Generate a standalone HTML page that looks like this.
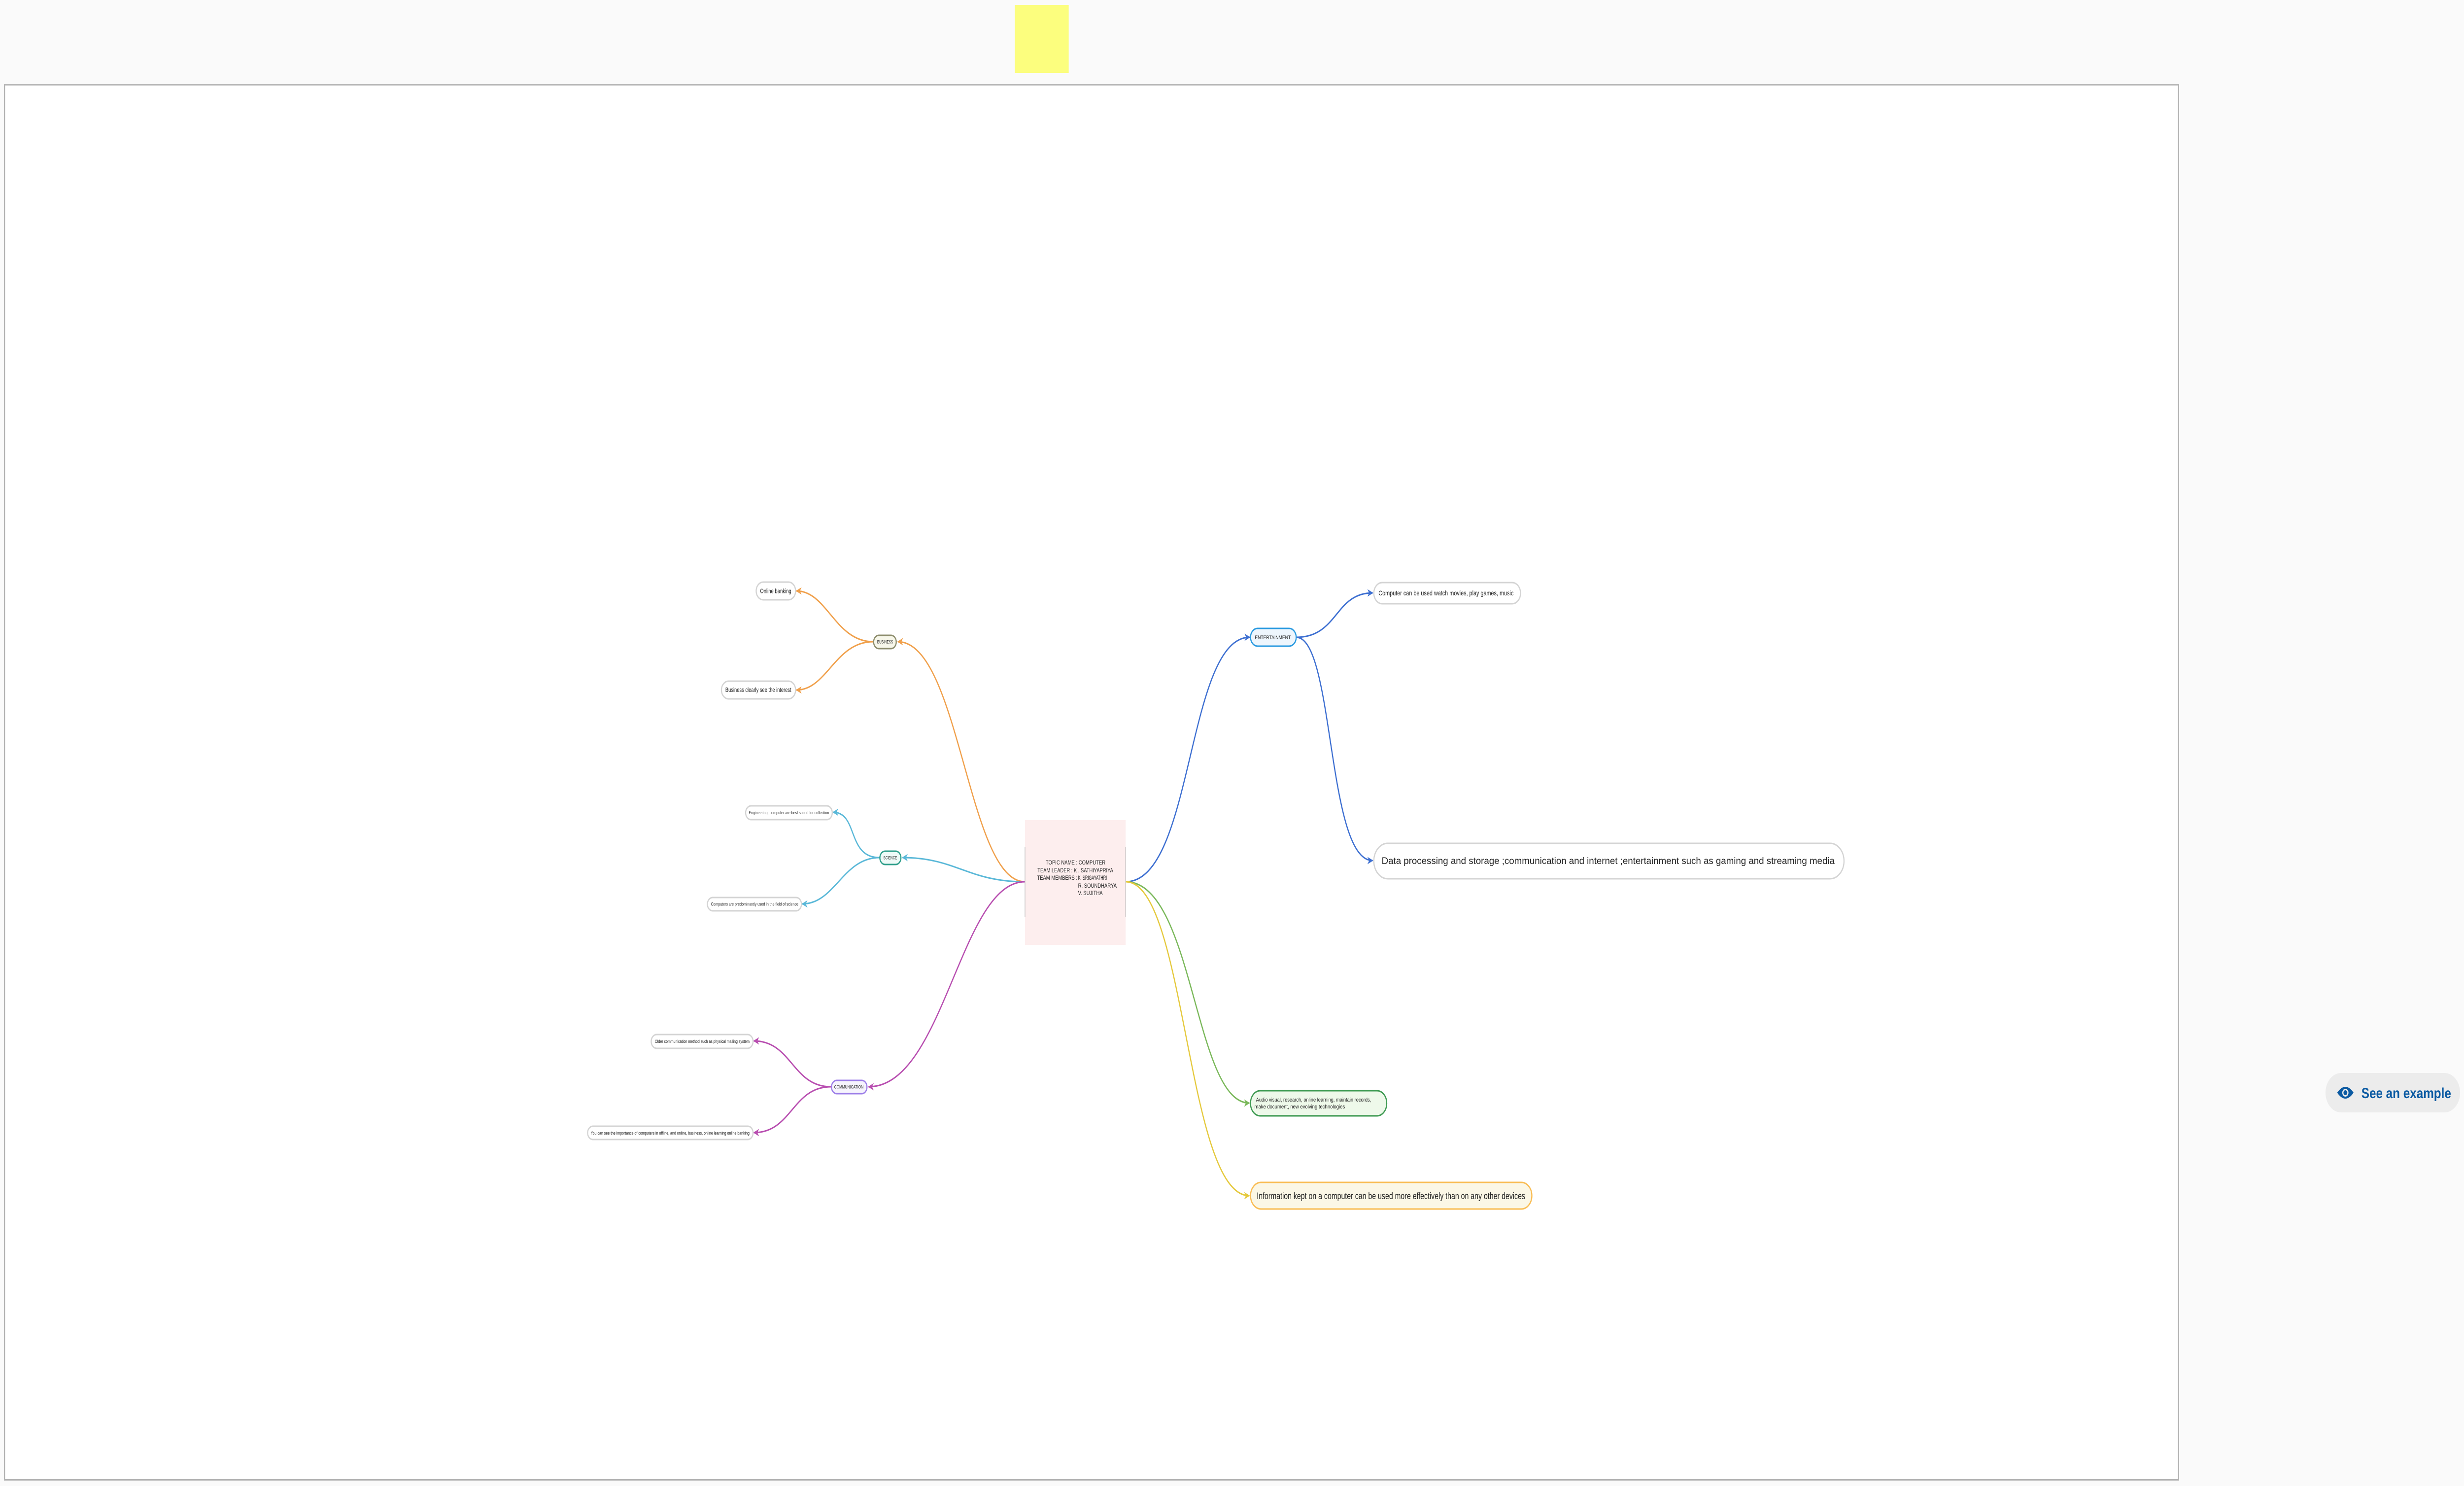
<!DOCTYPE html>
<html><head><meta charset="utf-8"><style>
html,body{margin:0;padding:0;background:#fafafa;width:100%;height:100%;overflow:hidden;}
svg{display:block;position:fixed;left:0;top:0;width:100vw;height:100vh;}
text{font-family:"Liberation Sans",sans-serif;fill:#222;}
</style></head><body>
<svg viewBox="0 0 6315 3015" preserveAspectRatio="none" xmlns="http://www.w3.org/2000/svg">
<defs>
<marker id="mo" viewBox="0 0 10 10" refX="9" refY="5" markerWidth="5" markerHeight="5" orient="auto" markerUnits="strokeWidth"><path d="M0,0 L10,5 L0,10 L3,5 Z" fill="#f0a04b"/></marker>
<marker id="mc" viewBox="0 0 10 10" refX="9" refY="5" markerWidth="5" markerHeight="5" orient="auto" markerUnits="strokeWidth"><path d="M0,0 L10,5 L0,10 L3,5 Z" fill="#5ab8d8"/></marker>
<marker id="mp" viewBox="0 0 10 10" refX="9" refY="5" markerWidth="5" markerHeight="5" orient="auto" markerUnits="strokeWidth"><path d="M0,0 L10,5 L0,10 L3,5 Z" fill="#b84eb0"/></marker>
<marker id="mb" viewBox="0 0 10 10" refX="9" refY="5" markerWidth="5" markerHeight="5" orient="auto" markerUnits="strokeWidth"><path d="M0,0 L10,5 L0,10 L3,5 Z" fill="#3d6fd1"/></marker>
<marker id="mg" viewBox="0 0 10 10" refX="9" refY="5" markerWidth="5" markerHeight="5" orient="auto" markerUnits="strokeWidth"><path d="M0,0 L10,5 L0,10 L3,5 Z" fill="#7ab85a"/></marker>
<marker id="my" viewBox="0 0 10 10" refX="9" refY="5" markerWidth="5" markerHeight="5" orient="auto" markerUnits="strokeWidth"><path d="M0,0 L10,5 L0,10 L3,5 Z" fill="#e5c93d"/></marker>
</defs>
<rect x="0" y="0" width="6315" height="3015" fill="#fafafa"/>
<rect x="2601" y="10" width="138" height="138" fill="#fcfe7e"/>
<rect x="11.5" y="172" width="5572" height="2830.5" fill="#fff" stroke="#b3b3b3" stroke-width="3"/>

<g fill="none" stroke-width="3">
<path d="M2627,1789 C2480,1789 2460,1302 2301,1302" stroke="#f0a04b" marker-end="url(#mo)"/>
<path d="M2238,1302 C2140,1302 2120,1199 2041,1199" stroke="#f0a04b" marker-end="url(#mo)"/>
<path d="M2238,1302 C2140,1302 2120,1400 2041,1400" stroke="#f0a04b" marker-end="url(#mo)"/>
<path d="M2627,1789 C2480,1789 2450,1740 2313,1740" stroke="#5ab8d8" marker-end="url(#mc)"/>
<path d="M2254,1740 C2170,1740 2200,1648 2135,1648" stroke="#5ab8d8" marker-end="url(#mc)"/>
<path d="M2254,1740 C2160,1740 2140,1834 2056,1834" stroke="#5ab8d8" marker-end="url(#mc)"/>
<path d="M2627,1789 C2460,1789 2420,2205 2226,2205" stroke="#b84eb0" marker-end="url(#mp)"/>
<path d="M2130,2205 C2030,2205 2030,2112 1932,2112" stroke="#b84eb0" marker-end="url(#mp)"/>
<path d="M2130,2205 C2030,2205 2030,2298 1932,2298" stroke="#b84eb0" marker-end="url(#mp)"/>
<path d="M2885,1789 C3060,1789 3040,1293 3203,1293" stroke="#3d6fd1" marker-end="url(#mb)"/>
<path d="M3322,1293 C3430,1293 3420,1203 3518,1203" stroke="#3d6fd1" marker-end="url(#mb)"/>
<path d="M3322,1293 C3420,1293 3400,1746 3518,1746" stroke="#3d6fd1" marker-end="url(#mb)"/>
<path d="M2885,1789 C3060,1789 3060,2238 3202,2238" stroke="#7ab85a" marker-end="url(#mg)"/>
<path d="M2885,1789 C3040,1789 3040,2426 3202,2426" stroke="#e5c93d" marker-end="url(#my)"/>
</g>

<rect x="2627" y="1664" width="258" height="253" fill="#fdeeee"/>
<line x1="2627" y1="1718" x2="2627" y2="1860" stroke="#bbb" stroke-width="1.5"/>
<line x1="2885" y1="1718" x2="2885" y2="1860" stroke="#bbb" stroke-width="1.5"/>
<g font-size="11.5">
<text x="2680" y="1754" textLength="153" lengthAdjust="spacingAndGlyphs">TOPIC NAME : COMPUTER</text>
<text x="2659" y="1770" textLength="194" lengthAdjust="spacingAndGlyphs">TEAM LEADER : K . SATHIYAPRIYA</text>
<text x="2658" y="1785" textLength="103" lengthAdjust="spacingAndGlyphs">TEAM MEMBERS :</text>
<text x="2763" y="1785" textLength="74" lengthAdjust="spacingAndGlyphs">K. SRIGAYATHRI</text>
<text x="2763" y="1801" textLength="99" lengthAdjust="spacingAndGlyphs">R. SOUNDHARYA</text>
<text x="2763" y="1816" textLength="63" lengthAdjust="spacingAndGlyphs">V. SUJITHA</text>
</g>

<rect x="2239" y="1289" width="58" height="27" rx="13.5" fill="#f7f7ea" stroke="#8e8e6e" stroke-width="3"/>
<text x="2248" y="1305.5" font-size="9" textLength="41" lengthAdjust="spacingAndGlyphs">BUSINESS</text>
<rect x="2255" y="1727" width="54" height="27" rx="13.5" fill="#eefaf7" stroke="#2e9e8a" stroke-width="3"/>
<text x="2264" y="1743.5" font-size="9" textLength="35" lengthAdjust="spacingAndGlyphs">SCIENCE</text>
<rect x="2131" y="2192" width="91" height="27" rx="13.5" fill="#f6f4fd" stroke="#9d7fe8" stroke-width="3"/>
<text x="2138" y="2208.5" font-size="9" textLength="75" lengthAdjust="spacingAndGlyphs">COMMUNICATION</text>
<rect x="3205" y="1275" width="117" height="36" rx="18" fill="#eef6fd" stroke="#2a9ae0" stroke-width="3"/>
<text x="3216" y="1297" font-size="11" textLength="92" lengthAdjust="spacingAndGlyphs">ENTERTAINMENT</text>
<rect x="3205" y="2213" width="349" height="51" rx="25" fill="#eef9ea" stroke="#3e9a52" stroke-width="3"/>
<text x="3219" y="2235" font-size="11" textLength="295" lengthAdjust="spacingAndGlyphs">Audio visual, research, online learning, maintain records,</text>
<text x="3215" y="2249" font-size="11" textLength="232" lengthAdjust="spacingAndGlyphs">make document, new evolving technologies</text>
<rect x="3205" y="2399" width="721" height="54" rx="27" fill="#fbf7e6" stroke="#f9bd55" stroke-width="3"/>
<text x="3221" y="2433" font-size="19" textLength="688" lengthAdjust="spacingAndGlyphs">Information kept on a computer can be used more effectively than on any other devices</text>

<g fill="#fff" stroke="#d4d4d4" stroke-width="3">
<rect x="1938" y="1181" width="101" height="36" rx="18"/>
<rect x="1849" y="1382" width="190" height="36" rx="18"/>
<rect x="1911" y="1635" width="222" height="28" rx="14"/>
<rect x="1813" y="1821" width="241" height="27" rx="13.5"/>
<rect x="1669" y="2099" width="261" height="28" rx="14"/>
<rect x="1506" y="2285" width="424" height="27" rx="13.5"/>
<rect x="3521" y="1182" width="376" height="43" rx="21.5"/>
<rect x="3521" y="1711" width="1205" height="72" rx="36"/>
</g>
<text x="1948" y="1203.5" font-size="13" textLength="80" lengthAdjust="spacingAndGlyphs">Online banking</text>
<text x="1859" y="1404" font-size="13" textLength="169" lengthAdjust="spacingAndGlyphs">Business clearly see the interest</text>
<text x="1919" y="1652" font-size="9.5" textLength="206" lengthAdjust="spacingAndGlyphs">Engineering, computer are best  suited for collection</text>
<text x="1822" y="1837.5" font-size="9.5" textLength="224" lengthAdjust="spacingAndGlyphs">Computers are predominantly used in the field of science</text>
<text x="1678" y="2116" font-size="9" textLength="243" lengthAdjust="spacingAndGlyphs">Older communication method such as physical mailing system</text>
<text x="1514" y="2302" font-size="9" textLength="407" lengthAdjust="spacingAndGlyphs">You can see the importance of computers in offline, and online, business, online learning online banking</text>
<text x="3533" y="1208" font-size="13.5" textLength="346" lengthAdjust="spacingAndGlyphs">Computer can be used watch movies, play games, music</text>
<text x="3541" y="1753" font-size="19" textLength="1161" lengthAdjust="spacingAndGlyphs">Data processing and storage ;communication and internet ;entertainment such as gaming and streaming media</text>

<rect x="5960" y="2177" width="345" height="80" rx="40" fill="#ececec"/>
<path d="M5990,2217 Q6011,2193 6032,2217 Q6011,2241 5990,2217 Z" fill="#0b5aa2"/>
<circle cx="6011" cy="2217" r="8" fill="#ececec"/>
<circle cx="6011" cy="2217" r="5" fill="#0b5aa2"/>
<text x="6052" y="2228" font-size="30" font-weight="bold" style="fill:#0b5aa2" textLength="230" lengthAdjust="spacingAndGlyphs">See an example</text>
</svg>
</body></html>
